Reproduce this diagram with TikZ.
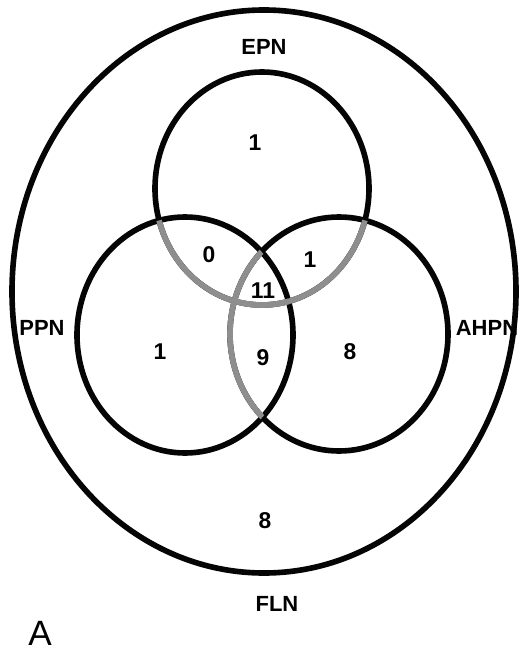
\documentclass[tikz,border=0pt]{standalone}
\usepackage{fontspec}
\setmainfont{Liberation Sans}
\usepackage{tikz}
\definecolor{setblack}{HTML}{050505}
\definecolor{setgray}{HTML}{8E8E8E}

\begin{document}
\begin{tikzpicture}[x=0.02cm,y=-0.02cm,
      ring/.style={draw=setblack,line width=3.2pt},
      inner/.style={draw=setgray,line width=3.2pt},
      lbl/.style={font=\fontsize{12.5}{14}\selectfont\bfseries,inner sep=0pt},
      num/.style={font=\fontsize{13}{14}\selectfont\bfseries,inner sep=0pt}]
    \useasboundingbox (0,0) rectangle (525,652);

    % outer set and the three inner sets
    \draw[ring] (264,291.5) ellipse [x radius=252,y radius=281.5];
    \draw[ring] (262,188.5) ellipse [x radius=107,y radius=116.5];
    \draw[ring] (185,335) ellipse [x radius=108,y radius=118];
    \draw[ring] (339,334) ellipse [x radius=109,y radius=117];

    % arcs lying inside another set are grey
    \begin{scope}
      \clip (185,335) ellipse [x radius=108,y radius=118];
      \draw[inner] (262,188.5) ellipse [x radius=107,y radius=116.5];
      \draw[inner] (339,334) ellipse [x radius=109,y radius=117];
    \end{scope}
    \begin{scope}
      \clip (339,334) ellipse [x radius=109,y radius=117];
      \draw[inner] (262,188.5) ellipse [x radius=107,y radius=116.5];
    \end{scope}

    \node[lbl] (epn)  at (264,47)  {EPN};
    \node[lbl] (ppn)  at (42,328)  {PPN};
    \node[lbl] (ahpn) at (487,328) {AHPN};
    \node[lbl] (fln)  at (277,604) {FLN};
    \node[font=\fontsize{20}{22}\selectfont,inner sep=0pt] (panel) at (40,633) {A};

    \node[num] (nE)   at (255,143) {1};
    \node[num] (nEP)  at (209,255) {0};
    \node[num] (nEA)  at (310,260) {1};
    \node[num] (nEPA) at (263,291) {11};
    \node[num] (nP)   at (160,352) {1};
    \node[num] (nPA)  at (263,358) {9};
    \node[num] (nA)   at (350,352) {8};
    \node[num] (nF)   at (265,521) {8};
  \end{tikzpicture}
\end{document}
